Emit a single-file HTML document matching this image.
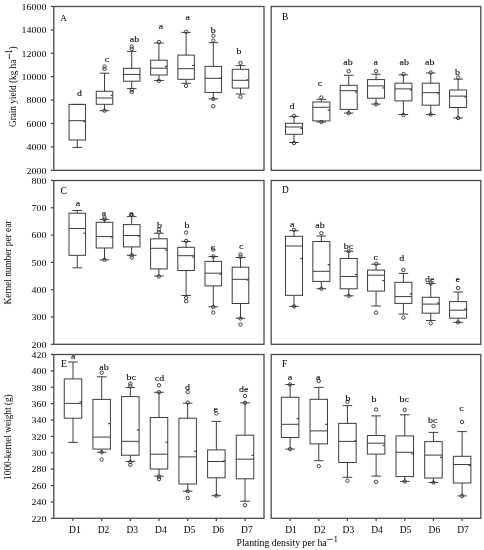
<!DOCTYPE html><html><head><meta charset="utf-8"><style>
html,body{margin:0;padding:0;background:#fff;}
svg{display:block;filter:blur(0.3px);}
text{font-family:"Liberation Serif",serif;fill:#000;}
.lab{font-size:9.2px;text-anchor:middle;stroke:#000;stroke-width:0.1px;}
.tk{font-size:8.9px;text-anchor:end;}
.xt{font-size:9.5px;text-anchor:middle;}
.ttl{font-size:10.5px;text-anchor:middle;}
.bx line,.bx rect,.bx circle{stroke:#3c3c3c;stroke-width:1.0;fill:none;}
.bx line.mn{stroke-width:1.2;}
.fr{stroke:#4a4a4a;stroke-width:1.3;fill:none;}
</style></head><body>
<svg width="484" height="550" viewBox="0 0 484 550">
<rect class="fr" x="53.8" y="6.5" width="210.2" height="163.8"/>
<rect class="fr" x="271.2" y="6.5" width="209.6" height="163.8"/>
<rect class="fr" x="53.8" y="180.5" width="210.2" height="163.8"/>
<rect class="fr" x="271.2" y="180.5" width="209.6" height="163.8"/>
<rect class="fr" x="53.8" y="354.5" width="210.2" height="163.8"/>
<rect class="fr" x="271.2" y="354.5" width="209.6" height="163.8"/>
<line class="fr" x1="50.8" y1="6.5" x2="53.8" y2="6.5"/>
<text class="tk" transform="translate(46.5,10) scale(1.12,1)">16000</text>
<line class="fr" x1="50.8" y1="29.9" x2="53.8" y2="29.9"/>
<text class="tk" transform="translate(46.5,33) scale(1.12,1)">14000</text>
<line class="fr" x1="50.8" y1="53.3" x2="53.8" y2="53.3"/>
<text class="tk" transform="translate(46.5,57) scale(1.12,1)">12000</text>
<line class="fr" x1="50.8" y1="76.7" x2="53.8" y2="76.7"/>
<text class="tk" transform="translate(46.5,80) scale(1.12,1)">10000</text>
<line class="fr" x1="50.8" y1="100.1" x2="53.8" y2="100.1"/>
<text class="tk" transform="translate(46.5,103) scale(1.12,1)">8000</text>
<line class="fr" x1="50.8" y1="123.5" x2="53.8" y2="123.5"/>
<text class="tk" transform="translate(46.5,127) scale(1.12,1)">6000</text>
<line class="fr" x1="50.8" y1="146.9" x2="53.8" y2="146.9"/>
<text class="tk" transform="translate(46.5,150) scale(1.12,1)">4000</text>
<line class="fr" x1="50.8" y1="170.3" x2="53.8" y2="170.3"/>
<text class="tk" transform="translate(46.5,174) scale(1.12,1)">2000</text>
<line class="fr" x1="50.8" y1="180.5" x2="53.8" y2="180.5"/>
<text class="tk" transform="translate(46.5,184) scale(1.12,1)">800</text>
<line class="fr" x1="50.8" y1="207.8" x2="53.8" y2="207.8"/>
<text class="tk" transform="translate(46.5,211) scale(1.12,1)">700</text>
<line class="fr" x1="50.8" y1="235.1" x2="53.8" y2="235.1"/>
<text class="tk" transform="translate(46.5,238) scale(1.12,1)">600</text>
<line class="fr" x1="50.8" y1="262.4" x2="53.8" y2="262.4"/>
<text class="tk" transform="translate(46.5,266) scale(1.12,1)">500</text>
<line class="fr" x1="50.8" y1="289.7" x2="53.8" y2="289.7"/>
<text class="tk" transform="translate(46.5,293) scale(1.12,1)">400</text>
<line class="fr" x1="50.8" y1="317" x2="53.8" y2="317"/>
<text class="tk" transform="translate(46.5,320) scale(1.12,1)">300</text>
<line class="fr" x1="50.8" y1="344.3" x2="53.8" y2="344.3"/>
<text class="tk" transform="translate(46.5,348) scale(1.12,1)">200</text>
<line class="fr" x1="50.8" y1="354.5" x2="53.8" y2="354.5"/>
<text class="tk" transform="translate(46.5,358) scale(1.12,1)">420</text>
<line class="fr" x1="50.8" y1="370.88" x2="53.8" y2="370.88"/>
<text class="tk" transform="translate(46.5,374) scale(1.12,1)">400</text>
<line class="fr" x1="50.8" y1="387.26" x2="53.8" y2="387.26"/>
<text class="tk" transform="translate(46.5,391) scale(1.12,1)">380</text>
<line class="fr" x1="50.8" y1="403.64" x2="53.8" y2="403.64"/>
<text class="tk" transform="translate(46.5,407) scale(1.12,1)">360</text>
<line class="fr" x1="50.8" y1="420.02" x2="53.8" y2="420.02"/>
<text class="tk" transform="translate(46.5,423) scale(1.12,1)">340</text>
<line class="fr" x1="50.8" y1="436.4" x2="53.8" y2="436.4"/>
<text class="tk" transform="translate(46.5,440) scale(1.12,1)">320</text>
<line class="fr" x1="50.8" y1="452.78" x2="53.8" y2="452.78"/>
<text class="tk" transform="translate(46.5,456) scale(1.12,1)">300</text>
<line class="fr" x1="50.8" y1="469.16" x2="53.8" y2="469.16"/>
<text class="tk" transform="translate(46.5,472) scale(1.12,1)">280</text>
<line class="fr" x1="50.8" y1="485.54" x2="53.8" y2="485.54"/>
<text class="tk" transform="translate(46.5,489) scale(1.12,1)">260</text>
<line class="fr" x1="50.8" y1="501.92" x2="53.8" y2="501.92"/>
<text class="tk" transform="translate(46.5,505) scale(1.12,1)">240</text>
<line class="fr" x1="50.8" y1="518.3" x2="53.8" y2="518.3"/>
<text class="tk" transform="translate(46.5,522) scale(1.12,1)">220</text>
<line class="fr" x1="73" y1="518.3" x2="73" y2="521"/>
<text class="xt" x="74.9" y="533">D1</text>
<line class="fr" x1="101.67" y1="518.3" x2="101.67" y2="521"/>
<text class="xt" x="103.57" y="533">D2</text>
<line class="fr" x1="130.34" y1="518.3" x2="130.34" y2="521"/>
<text class="xt" x="132.24" y="533">D3</text>
<line class="fr" x1="159.01" y1="518.3" x2="159.01" y2="521"/>
<text class="xt" x="160.91" y="533">D4</text>
<line class="fr" x1="187.68" y1="518.3" x2="187.68" y2="521"/>
<text class="xt" x="189.58" y="533">D5</text>
<line class="fr" x1="216.35" y1="518.3" x2="216.35" y2="521"/>
<text class="xt" x="218.25" y="533">D6</text>
<line class="fr" x1="245.02" y1="518.3" x2="245.02" y2="521"/>
<text class="xt" x="246.92" y="533">D7</text>
<line class="fr" x1="290.1" y1="518.3" x2="290.1" y2="521"/>
<text class="xt" x="291" y="533">D1</text>
<line class="fr" x1="318.77" y1="518.3" x2="318.77" y2="521"/>
<text class="xt" x="319.67" y="533">D2</text>
<line class="fr" x1="347.44" y1="518.3" x2="347.44" y2="521"/>
<text class="xt" x="348.34" y="533">D3</text>
<line class="fr" x1="376.11" y1="518.3" x2="376.11" y2="521"/>
<text class="xt" x="377.01" y="533">D4</text>
<line class="fr" x1="404.78" y1="518.3" x2="404.78" y2="521"/>
<text class="xt" x="405.68" y="533">D5</text>
<line class="fr" x1="433.45" y1="518.3" x2="433.45" y2="521"/>
<text class="xt" x="434.35" y="533">D6</text>
<line class="fr" x1="462.12" y1="518.3" x2="462.12" y2="521"/>
<text class="xt" x="463.02" y="533">D7</text>
<text class="pl" font-size="9.2" x="60.2" y="20.8">A</text>
<text class="pl" font-size="9.5" x="282.0" y="19.9">B</text>
<text class="pl" font-size="9.6" x="60.6" y="193.6">C</text>
<text class="pl" font-size="9.3" x="282.1" y="193.3">D</text>
<text class="pl" font-size="9.8" x="61.1" y="367.3">E</text>
<text class="pl" font-size="9.3" x="282.1" y="367.1">F</text>
<g class="bx">
<line x1="77.3" y1="104.4" x2="77.3" y2="104.4"/>
<line x1="77.3" y1="140" x2="77.3" y2="147.4"/>
<line x1="72.5" y1="104.4" x2="82.1" y2="104.4"/>
<line x1="72.5" y1="147.4" x2="82.1" y2="147.4"/>
<rect x="69.05" y="104.4" width="16.5" height="35.6"/>
<line x1="69.05" y1="120.7" x2="85.55" y2="120.7"/>
<line class="mn" x1="83.35" y1="121.5" x2="85.55" y2="121.5"/>
<text class="lab" transform="translate(79.5,96) scale(1.08,1)">d</text>
<line x1="104.5" y1="73.2" x2="104.5" y2="91.3"/>
<line x1="104.5" y1="104.3" x2="104.5" y2="110.7"/>
<line x1="99.7" y1="73.2" x2="109.3" y2="73.2"/>
<line x1="99.7" y1="110.7" x2="109.3" y2="110.7"/>
<rect x="96.25" y="91.3" width="16.5" height="13"/>
<line x1="96.25" y1="98" x2="112.75" y2="98"/>
<line class="mn" x1="110.55" y1="95.4" x2="112.75" y2="95.4"/>
<circle cx="104.5" cy="66.6" r="1.7"/>
<circle cx="104.5" cy="68.9" r="1.7"/>
<circle cx="104.5" cy="110.7" r="1.7"/>
<text class="lab" transform="translate(107,62) scale(1.08,1)">c</text>
<line x1="131.7" y1="51.4" x2="131.7" y2="68.3"/>
<line x1="131.7" y1="81.2" x2="131.7" y2="88.6"/>
<line x1="126.9" y1="51.4" x2="136.5" y2="51.4"/>
<line x1="126.9" y1="88.6" x2="136.5" y2="88.6"/>
<rect x="123.45" y="68.3" width="16.5" height="12.9"/>
<line x1="123.45" y1="74.4" x2="139.95" y2="74.4"/>
<line class="mn" x1="137.75" y1="74.6" x2="139.95" y2="74.6"/>
<circle cx="131.7" cy="46.6" r="1.7"/>
<circle cx="131.7" cy="48.9" r="1.7"/>
<circle cx="131.7" cy="89.8" r="1.7"/>
<circle cx="131.7" cy="92" r="1.7"/>
<text class="lab" transform="translate(134.5,42) scale(1.08,1)">ab</text>
<line x1="158.9" y1="43" x2="158.9" y2="60.2"/>
<line x1="158.9" y1="75" x2="158.9" y2="80.5"/>
<line x1="154.1" y1="43" x2="163.7" y2="43"/>
<line x1="154.1" y1="80.5" x2="163.7" y2="80.5"/>
<rect x="150.65" y="60.2" width="16.5" height="14.8"/>
<line x1="150.65" y1="68.2" x2="167.15" y2="68.2"/>
<line class="mn" x1="164.95" y1="66.4" x2="167.15" y2="66.4"/>
<circle cx="158.9" cy="42" r="1.7"/>
<circle cx="158.9" cy="80.8" r="1.7"/>
<text class="lab" transform="translate(161,29) scale(1.08,1)">a</text>
<line x1="186.1" y1="32.4" x2="186.1" y2="55.1"/>
<line x1="186.1" y1="79.3" x2="186.1" y2="83.3"/>
<line x1="181.3" y1="32.4" x2="190.9" y2="32.4"/>
<line x1="181.3" y1="83.3" x2="190.9" y2="83.3"/>
<rect x="177.85" y="55.1" width="16.5" height="24.2"/>
<line x1="177.85" y1="68.7" x2="194.35" y2="68.7"/>
<line class="mn" x1="192.15" y1="65.5" x2="194.35" y2="65.5"/>
<circle cx="186.1" cy="31.8" r="1.7"/>
<circle cx="186.1" cy="85.9" r="1.7"/>
<text class="lab" transform="translate(187.7,20) scale(1.08,1)">a</text>
<line x1="213.3" y1="42.7" x2="213.3" y2="66.4"/>
<line x1="213.3" y1="92.4" x2="213.3" y2="98.9"/>
<line x1="208.5" y1="42.7" x2="218.1" y2="42.7"/>
<line x1="208.5" y1="98.9" x2="218.1" y2="98.9"/>
<rect x="205.05" y="66.4" width="16.5" height="26"/>
<line x1="205.05" y1="78.3" x2="221.55" y2="78.3"/>
<line class="mn" x1="219.35" y1="78.3" x2="221.55" y2="78.3"/>
<circle cx="213.3" cy="35.7" r="1.7"/>
<circle cx="213.3" cy="40.5" r="1.7"/>
<circle cx="213.3" cy="98.9" r="1.7"/>
<circle cx="213.3" cy="106.1" r="1.7"/>
<text class="lab" transform="translate(213.2,33) scale(1.08,1)">b</text>
<line x1="240.5" y1="65.6" x2="240.5" y2="69.3"/>
<line x1="240.5" y1="88.1" x2="240.5" y2="94"/>
<line x1="235.7" y1="65.6" x2="245.3" y2="65.6"/>
<line x1="235.7" y1="94" x2="245.3" y2="94"/>
<rect x="232.25" y="69.3" width="16.5" height="18.8"/>
<line x1="232.25" y1="80.3" x2="248.75" y2="80.3"/>
<line class="mn" x1="246.55" y1="79.9" x2="248.75" y2="79.9"/>
<circle cx="240.5" cy="62.9" r="1.7"/>
<circle cx="240.5" cy="96.8" r="1.7"/>
<text class="lab" transform="translate(238.9,54) scale(1.08,1)">b</text>
<line x1="294" y1="116.4" x2="294" y2="123.3"/>
<line x1="294" y1="134.3" x2="294" y2="142.5"/>
<line x1="289.2" y1="116.4" x2="298.8" y2="116.4"/>
<line x1="289.2" y1="142.5" x2="298.8" y2="142.5"/>
<rect x="285.5" y="123.3" width="17" height="11"/>
<line x1="285.5" y1="127" x2="302.5" y2="127"/>
<line class="mn" x1="300.3" y1="128.4" x2="302.5" y2="128.4"/>
<circle cx="294" cy="115.9" r="1.7"/>
<circle cx="294" cy="143" r="1.7"/>
<text class="lab" transform="translate(292,109) scale(1.08,1)">d</text>
<line x1="321.35" y1="99.3" x2="321.35" y2="102"/>
<line x1="321.35" y1="120.9" x2="321.35" y2="122"/>
<line x1="316.55" y1="99.3" x2="326.15" y2="99.3"/>
<line x1="316.55" y1="122" x2="326.15" y2="122"/>
<rect x="312.85" y="102" width="17" height="18.9"/>
<line x1="312.85" y1="107.3" x2="329.85" y2="107.3"/>
<line class="mn" x1="327.65" y1="110" x2="329.85" y2="110"/>
<circle cx="321.35" cy="97.5" r="1.7"/>
<circle cx="321.35" cy="122" r="1.7"/>
<text class="lab" transform="translate(320,86) scale(1.08,1)">c</text>
<line x1="348.7" y1="75.3" x2="348.7" y2="85.3"/>
<line x1="348.7" y1="109.4" x2="348.7" y2="113.1"/>
<line x1="343.9" y1="75.3" x2="353.5" y2="75.3"/>
<line x1="343.9" y1="113.1" x2="353.5" y2="113.1"/>
<rect x="340.2" y="85.3" width="17" height="24.1"/>
<line x1="340.2" y1="90.7" x2="357.2" y2="90.7"/>
<line class="mn" x1="355" y1="92" x2="357.2" y2="92"/>
<circle cx="348.7" cy="71.2" r="1.7"/>
<circle cx="348.7" cy="113.1" r="1.7"/>
<text class="lab" transform="translate(348,65) scale(1.08,1)">ab</text>
<line x1="376.05" y1="74.2" x2="376.05" y2="79.6"/>
<line x1="376.05" y1="98.2" x2="376.05" y2="104.1"/>
<line x1="371.25" y1="74.2" x2="380.85" y2="74.2"/>
<line x1="371.25" y1="104.1" x2="380.85" y2="104.1"/>
<rect x="367.55" y="79.6" width="17" height="18.6"/>
<line x1="367.55" y1="85.9" x2="384.55" y2="85.9"/>
<line class="mn" x1="382.35" y1="87.9" x2="384.55" y2="87.9"/>
<circle cx="376.05" cy="71.2" r="1.7"/>
<circle cx="376.05" cy="104.3" r="1.7"/>
<text class="lab" transform="translate(375.7,65) scale(1.08,1)">a</text>
<line x1="403.4" y1="74.8" x2="403.4" y2="83.2"/>
<line x1="403.4" y1="100.9" x2="403.4" y2="114.5"/>
<line x1="398.6" y1="74.8" x2="408.2" y2="74.8"/>
<line x1="398.6" y1="114.5" x2="408.2" y2="114.5"/>
<rect x="394.9" y="83.2" width="17" height="17.7"/>
<line x1="394.9" y1="88.9" x2="411.9" y2="88.9"/>
<line class="mn" x1="409.7" y1="90" x2="411.9" y2="90"/>
<circle cx="403.4" cy="74.1" r="1.7"/>
<circle cx="403.4" cy="115" r="1.7"/>
<text class="lab" transform="translate(404.2,65) scale(1.08,1)">ab</text>
<line x1="430.75" y1="73" x2="430.75" y2="83.2"/>
<line x1="430.75" y1="105.2" x2="430.75" y2="114.5"/>
<line x1="425.95" y1="73" x2="435.55" y2="73"/>
<line x1="425.95" y1="114.5" x2="435.55" y2="114.5"/>
<rect x="422.25" y="83.2" width="17" height="22"/>
<line x1="422.25" y1="92.7" x2="439.25" y2="92.7"/>
<line class="mn" x1="437.05" y1="93" x2="439.25" y2="93"/>
<circle cx="430.75" cy="72.5" r="1.7"/>
<circle cx="430.75" cy="114.5" r="1.7"/>
<text class="lab" transform="translate(429.7,65) scale(1.08,1)">ab</text>
<line x1="458.1" y1="79.1" x2="458.1" y2="90"/>
<line x1="458.1" y1="107.5" x2="458.1" y2="118"/>
<line x1="453.3" y1="79.1" x2="462.9" y2="79.1"/>
<line x1="453.3" y1="118" x2="462.9" y2="118"/>
<rect x="449.6" y="90" width="17" height="17.5"/>
<line x1="449.6" y1="96.1" x2="466.6" y2="96.1"/>
<line class="mn" x1="464.4" y1="97" x2="466.6" y2="97"/>
<circle cx="458.1" cy="77.5" r="1.7"/>
<circle cx="458.1" cy="118" r="1.7"/>
<text class="lab" transform="translate(457.6,75) scale(1.08,1)">b</text>
<line x1="77.3" y1="210.5" x2="77.3" y2="213.2"/>
<line x1="77.3" y1="255.3" x2="77.3" y2="267.8"/>
<line x1="72.5" y1="210.5" x2="82.1" y2="210.5"/>
<line x1="72.5" y1="267.8" x2="82.1" y2="267.8"/>
<rect x="69" y="213.2" width="16.6" height="42.1"/>
<line x1="69" y1="228.5" x2="85.6" y2="228.5"/>
<line class="mn" x1="83.4" y1="233.2" x2="85.6" y2="233.2"/>
<text class="lab" transform="translate(77.9,206) scale(1.08,1)">a</text>
<line x1="104.5" y1="219.4" x2="104.5" y2="222.3"/>
<line x1="104.5" y1="248" x2="104.5" y2="259.8"/>
<line x1="99.7" y1="219.4" x2="109.3" y2="219.4"/>
<line x1="99.7" y1="259.8" x2="109.3" y2="259.8"/>
<rect x="96.2" y="222.3" width="16.6" height="25.7"/>
<line x1="96.2" y1="236.6" x2="112.8" y2="236.6"/>
<line class="mn" x1="110.6" y1="237" x2="112.8" y2="237"/>
<circle cx="104.5" cy="217.5" r="1.7"/>
<circle cx="104.5" cy="219.4" r="1.7"/>
<circle cx="104.5" cy="259.8" r="1.7"/>
<text class="lab" transform="translate(104,216) scale(1.08,1)">a</text>
<line x1="131.7" y1="216.6" x2="131.7" y2="224.6"/>
<line x1="131.7" y1="246.9" x2="131.7" y2="255.3"/>
<line x1="126.9" y1="216.6" x2="136.5" y2="216.6"/>
<line x1="126.9" y1="255.3" x2="136.5" y2="255.3"/>
<rect x="123.4" y="224.6" width="16.6" height="22.3"/>
<line x1="123.4" y1="235.5" x2="140" y2="235.5"/>
<line class="mn" x1="137.8" y1="236" x2="140" y2="236"/>
<circle cx="131.7" cy="215" r="1.7"/>
<circle cx="131.7" cy="255.3" r="1.7"/>
<circle cx="131.7" cy="257.5" r="1.7"/>
<text class="lab" transform="translate(131.3,216) scale(1.08,1)">a</text>
<line x1="158.9" y1="233.2" x2="158.9" y2="238.8"/>
<line x1="158.9" y1="268.9" x2="158.9" y2="276"/>
<line x1="154.1" y1="233.2" x2="163.7" y2="233.2"/>
<line x1="154.1" y1="276" x2="163.7" y2="276"/>
<rect x="150.6" y="238.8" width="16.6" height="30.1"/>
<line x1="150.6" y1="248.3" x2="167.2" y2="248.3"/>
<line class="mn" x1="165" y1="250" x2="167.2" y2="250"/>
<circle cx="158.9" cy="229.6" r="1.7"/>
<circle cx="158.9" cy="232.2" r="1.7"/>
<circle cx="158.9" cy="276.4" r="1.7"/>
<text class="lab" transform="translate(159.5,228) scale(1.08,1)">b</text>
<line x1="186.1" y1="241.4" x2="186.1" y2="247.3"/>
<line x1="186.1" y1="270.5" x2="186.1" y2="295.5"/>
<line x1="181.3" y1="241.4" x2="190.9" y2="241.4"/>
<line x1="181.3" y1="295.5" x2="190.9" y2="295.5"/>
<rect x="177.8" y="247.3" width="16.6" height="23.2"/>
<line x1="177.8" y1="255.7" x2="194.4" y2="255.7"/>
<line class="mn" x1="192.2" y1="257" x2="194.4" y2="257"/>
<circle cx="186.1" cy="232.5" r="1.7"/>
<circle cx="186.1" cy="240.9" r="1.7"/>
<circle cx="186.1" cy="297.8" r="1.7"/>
<circle cx="186.1" cy="301.2" r="1.7"/>
<text class="lab" transform="translate(187,228) scale(1.08,1)">b</text>
<line x1="213.3" y1="256.5" x2="213.3" y2="261.4"/>
<line x1="213.3" y1="285.9" x2="213.3" y2="306.8"/>
<line x1="208.5" y1="256.5" x2="218.1" y2="256.5"/>
<line x1="208.5" y1="306.8" x2="218.1" y2="306.8"/>
<rect x="205" y="261.4" width="16.6" height="24.5"/>
<line x1="205" y1="273.2" x2="221.6" y2="273.2"/>
<line class="mn" x1="219.4" y1="274" x2="221.6" y2="274"/>
<circle cx="213.3" cy="249.6" r="1.7"/>
<circle cx="213.3" cy="256.5" r="1.7"/>
<circle cx="213.3" cy="307" r="1.7"/>
<circle cx="213.3" cy="312.5" r="1.7"/>
<text class="lab" transform="translate(213,250) scale(1.08,1)">c</text>
<line x1="240.5" y1="257.5" x2="240.5" y2="267.2"/>
<line x1="240.5" y1="303.5" x2="240.5" y2="318.3"/>
<line x1="235.7" y1="257.5" x2="245.3" y2="257.5"/>
<line x1="235.7" y1="318.3" x2="245.3" y2="318.3"/>
<rect x="232.2" y="267.2" width="16.6" height="36.3"/>
<line x1="232.2" y1="279.3" x2="248.8" y2="279.3"/>
<line class="mn" x1="246.6" y1="280" x2="248.8" y2="280"/>
<circle cx="240.5" cy="254.5" r="1.7"/>
<circle cx="240.5" cy="256.8" r="1.7"/>
<circle cx="240.5" cy="318.5" r="1.7"/>
<circle cx="240.5" cy="324.5" r="1.7"/>
<text class="lab" transform="translate(241.1,249) scale(1.08,1)">c</text>
<line x1="294" y1="230.7" x2="294" y2="236.3"/>
<line x1="294" y1="295.3" x2="294" y2="306.4"/>
<line x1="289.2" y1="230.7" x2="298.8" y2="230.7"/>
<line x1="289.2" y1="306.4" x2="298.8" y2="306.4"/>
<rect x="285.5" y="236.3" width="17" height="59"/>
<line x1="285.5" y1="246" x2="302.5" y2="246"/>
<line class="mn" x1="300.3" y1="258.6" x2="302.5" y2="258.6"/>
<circle cx="294" cy="229.8" r="1.7"/>
<circle cx="294" cy="306.4" r="1.7"/>
<text class="lab" transform="translate(292.3,227) scale(1.08,1)">a</text>
<line x1="321.35" y1="236" x2="321.35" y2="241.5"/>
<line x1="321.35" y1="281.4" x2="321.35" y2="288.7"/>
<line x1="316.55" y1="236" x2="326.15" y2="236"/>
<line x1="316.55" y1="288.7" x2="326.15" y2="288.7"/>
<rect x="312.85" y="241.5" width="17" height="39.9"/>
<line x1="312.85" y1="271.3" x2="329.85" y2="271.3"/>
<line class="mn" x1="327.65" y1="264.6" x2="329.85" y2="264.6"/>
<circle cx="321.35" cy="233.2" r="1.7"/>
<circle cx="321.35" cy="288.7" r="1.7"/>
<text class="lab" transform="translate(320,228) scale(1.08,1)">ab</text>
<line x1="348.7" y1="251.2" x2="348.7" y2="258.5"/>
<line x1="348.7" y1="288.8" x2="348.7" y2="295.8"/>
<line x1="343.9" y1="251.2" x2="353.5" y2="251.2"/>
<line x1="343.9" y1="295.8" x2="353.5" y2="295.8"/>
<rect x="340.2" y="258.5" width="17" height="30.3"/>
<line x1="340.2" y1="276.5" x2="357.2" y2="276.5"/>
<line class="mn" x1="355" y1="274.6" x2="357.2" y2="274.6"/>
<circle cx="348.7" cy="251.2" r="1.7"/>
<circle cx="348.7" cy="295.8" r="1.7"/>
<text class="lab" transform="translate(348.4,249) scale(1.08,1)">bc</text>
<line x1="376.05" y1="264.2" x2="376.05" y2="270.1"/>
<line x1="376.05" y1="291.1" x2="376.05" y2="306"/>
<line x1="371.25" y1="264.2" x2="380.85" y2="264.2"/>
<line x1="371.25" y1="306" x2="380.85" y2="306"/>
<rect x="367.55" y="270.1" width="17" height="21"/>
<line x1="367.55" y1="275.2" x2="384.55" y2="275.2"/>
<line class="mn" x1="382.35" y1="280.5" x2="384.55" y2="280.5"/>
<circle cx="376.05" cy="263.8" r="1.7"/>
<circle cx="376.05" cy="312.6" r="1.7"/>
<text class="lab" transform="translate(375.7,260) scale(1.08,1)">c</text>
<line x1="403.4" y1="273.4" x2="403.4" y2="282.3"/>
<line x1="403.4" y1="303.4" x2="403.4" y2="314.1"/>
<line x1="398.6" y1="273.4" x2="408.2" y2="273.4"/>
<line x1="398.6" y1="314.1" x2="408.2" y2="314.1"/>
<rect x="394.9" y="282.3" width="17" height="21.1"/>
<line x1="394.9" y1="296.6" x2="411.9" y2="296.6"/>
<line class="mn" x1="409.7" y1="294" x2="411.9" y2="294"/>
<circle cx="403.4" cy="270" r="1.7"/>
<circle cx="403.4" cy="317.7" r="1.7"/>
<text class="lab" transform="translate(401.7,261) scale(1.08,1)">d</text>
<line x1="430.75" y1="283.4" x2="430.75" y2="297.3"/>
<line x1="430.75" y1="313.2" x2="430.75" y2="320.5"/>
<line x1="425.95" y1="283.4" x2="435.55" y2="283.4"/>
<line x1="425.95" y1="320.5" x2="435.55" y2="320.5"/>
<rect x="422.25" y="297.3" width="17" height="15.9"/>
<line x1="422.25" y1="304.1" x2="439.25" y2="304.1"/>
<line class="mn" x1="437.05" y1="303" x2="439.25" y2="303"/>
<circle cx="430.75" cy="283.4" r="1.7"/>
<circle cx="430.75" cy="323.4" r="1.7"/>
<text class="lab" transform="translate(429.7,282) scale(1.08,1)">de</text>
<line x1="458.1" y1="292" x2="458.1" y2="301.6"/>
<line x1="458.1" y1="318.2" x2="458.1" y2="322.3"/>
<line x1="453.3" y1="292" x2="462.9" y2="292"/>
<line x1="453.3" y1="322.3" x2="462.9" y2="322.3"/>
<rect x="449.6" y="301.6" width="17" height="16.6"/>
<line x1="449.6" y1="310.2" x2="466.6" y2="310.2"/>
<line class="mn" x1="464.4" y1="309" x2="466.6" y2="309"/>
<circle cx="458.1" cy="288" r="1.7"/>
<circle cx="458.1" cy="322.3" r="1.7"/>
<text class="lab" transform="translate(457.6,282) scale(1.08,1)">e</text>
<line x1="73" y1="362" x2="73" y2="378.9"/>
<line x1="73" y1="418.2" x2="73" y2="442.4"/>
<line x1="68.2" y1="362" x2="77.8" y2="362"/>
<line x1="68.2" y1="442.4" x2="77.8" y2="442.4"/>
<rect x="64.25" y="378.9" width="17.5" height="39.3"/>
<line x1="64.25" y1="403.4" x2="81.75" y2="403.4"/>
<line class="mn" x1="79.55" y1="401.8" x2="81.75" y2="401.8"/>
<text class="lab" transform="translate(73.3,359) scale(1.08,1)">a</text>
<line x1="101.67" y1="376.8" x2="101.67" y2="399.4"/>
<line x1="101.67" y1="449.1" x2="101.67" y2="452.3"/>
<line x1="96.87" y1="376.8" x2="106.47" y2="376.8"/>
<line x1="96.87" y1="452.3" x2="106.47" y2="452.3"/>
<rect x="92.92" y="399.4" width="17.5" height="49.7"/>
<line x1="92.92" y1="437.1" x2="110.42" y2="437.1"/>
<line class="mn" x1="108.22" y1="423.6" x2="110.42" y2="423.6"/>
<circle cx="101.67" cy="372.7" r="1.7"/>
<circle cx="101.67" cy="452.3" r="1.7"/>
<circle cx="101.67" cy="459.6" r="1.7"/>
<text class="lab" transform="translate(104,370) scale(1.08,1)">ab</text>
<line x1="130.34" y1="387.5" x2="130.34" y2="396.6"/>
<line x1="130.34" y1="455.2" x2="130.34" y2="461.4"/>
<line x1="125.54" y1="387.5" x2="135.14" y2="387.5"/>
<line x1="125.54" y1="461.4" x2="135.14" y2="461.4"/>
<rect x="121.59" y="396.6" width="17.5" height="58.6"/>
<line x1="121.59" y1="441.3" x2="139.09" y2="441.3"/>
<line class="mn" x1="136.89" y1="430" x2="139.09" y2="430"/>
<circle cx="130.34" cy="383.6" r="1.7"/>
<circle cx="130.34" cy="385.7" r="1.7"/>
<circle cx="130.34" cy="462" r="1.7"/>
<circle cx="130.34" cy="464.8" r="1.7"/>
<text class="lab" transform="translate(131.3,380) scale(1.08,1)">bc</text>
<line x1="159.01" y1="392.3" x2="159.01" y2="417.5"/>
<line x1="159.01" y1="469" x2="159.01" y2="476.2"/>
<line x1="154.21" y1="392.3" x2="163.81" y2="392.3"/>
<line x1="154.21" y1="476.2" x2="163.81" y2="476.2"/>
<rect x="150.26" y="417.5" width="17.5" height="51.5"/>
<line x1="150.26" y1="454.2" x2="167.76" y2="454.2"/>
<line class="mn" x1="165.56" y1="442.2" x2="167.76" y2="442.2"/>
<circle cx="159.01" cy="385.3" r="1.7"/>
<circle cx="159.01" cy="392.3" r="1.7"/>
<circle cx="159.01" cy="476.5" r="1.7"/>
<circle cx="159.01" cy="479.1" r="1.7"/>
<text class="lab" transform="translate(159.5,381) scale(1.08,1)">cd</text>
<line x1="187.68" y1="403.2" x2="187.68" y2="418.2"/>
<line x1="187.68" y1="484" x2="187.68" y2="491.2"/>
<line x1="182.88" y1="403.2" x2="192.48" y2="403.2"/>
<line x1="182.88" y1="491.2" x2="192.48" y2="491.2"/>
<rect x="178.93" y="418.2" width="17.5" height="65.8"/>
<line x1="178.93" y1="456.9" x2="196.43" y2="456.9"/>
<line class="mn" x1="194.23" y1="451.3" x2="196.43" y2="451.3"/>
<circle cx="187.68" cy="392.1" r="1.7"/>
<circle cx="187.68" cy="402.6" r="1.7"/>
<circle cx="187.68" cy="491.2" r="1.7"/>
<circle cx="187.68" cy="498.1" r="1.7"/>
<text class="lab" transform="translate(187.5,390) scale(1.08,1)">d</text>
<line x1="216.35" y1="421.4" x2="216.35" y2="449.9"/>
<line x1="216.35" y1="477.8" x2="216.35" y2="495.7"/>
<line x1="211.55" y1="421.4" x2="221.15" y2="421.4"/>
<line x1="211.55" y1="495.7" x2="221.15" y2="495.7"/>
<rect x="207.6" y="449.9" width="17.5" height="27.9"/>
<line x1="207.6" y1="461.5" x2="225.1" y2="461.5"/>
<line class="mn" x1="222.9" y1="461" x2="225.1" y2="461"/>
<circle cx="216.35" cy="413.4" r="1.7"/>
<circle cx="216.35" cy="495.7" r="1.7"/>
<text class="lab" transform="translate(215.6,412) scale(1.08,1)">e</text>
<line x1="245.02" y1="402.8" x2="245.02" y2="435.2"/>
<line x1="245.02" y1="478.8" x2="245.02" y2="501.2"/>
<line x1="240.22" y1="402.8" x2="249.82" y2="402.8"/>
<line x1="240.22" y1="501.2" x2="249.82" y2="501.2"/>
<rect x="236.27" y="435.2" width="17.5" height="43.6"/>
<line x1="236.27" y1="459.2" x2="253.77" y2="459.2"/>
<line class="mn" x1="251.57" y1="455.3" x2="253.77" y2="455.3"/>
<circle cx="245.02" cy="395.9" r="1.7"/>
<circle cx="245.02" cy="402.8" r="1.7"/>
<circle cx="245.02" cy="505.2" r="1.7"/>
<text class="lab" transform="translate(243.7,392) scale(1.08,1)">de</text>
<line x1="290.1" y1="384.5" x2="290.1" y2="397.3"/>
<line x1="290.1" y1="437.5" x2="290.1" y2="449.1"/>
<line x1="285.3" y1="384.5" x2="294.9" y2="384.5"/>
<line x1="285.3" y1="449.1" x2="294.9" y2="449.1"/>
<rect x="281.35" y="397.3" width="17.5" height="40.2"/>
<line x1="281.35" y1="424.3" x2="298.85" y2="424.3"/>
<line class="mn" x1="296.65" y1="418.6" x2="298.85" y2="418.6"/>
<circle cx="290.1" cy="384.5" r="1.7"/>
<circle cx="290.1" cy="449.1" r="1.7"/>
<text class="lab" transform="translate(290,380) scale(1.08,1)">a</text>
<line x1="318.77" y1="387.4" x2="318.77" y2="399.3"/>
<line x1="318.77" y1="443.9" x2="318.77" y2="460.7"/>
<line x1="313.97" y1="387.4" x2="323.57" y2="387.4"/>
<line x1="313.97" y1="460.7" x2="323.57" y2="460.7"/>
<rect x="310.02" y="399.3" width="17.5" height="44.6"/>
<line x1="310.02" y1="430.9" x2="327.52" y2="430.9"/>
<line class="mn" x1="325.32" y1="424.3" x2="327.52" y2="424.3"/>
<circle cx="318.77" cy="381" r="1.7"/>
<circle cx="318.77" cy="466.2" r="1.7"/>
<text class="lab" transform="translate(318.2,380) scale(1.08,1)">a</text>
<line x1="347.44" y1="405.7" x2="347.44" y2="423.4"/>
<line x1="347.44" y1="462.5" x2="347.44" y2="477.3"/>
<line x1="342.64" y1="405.7" x2="352.24" y2="405.7"/>
<line x1="342.64" y1="477.3" x2="352.24" y2="477.3"/>
<rect x="338.69" y="423.4" width="17.5" height="39.1"/>
<line x1="338.69" y1="441.4" x2="356.19" y2="441.4"/>
<line class="mn" x1="353.99" y1="441" x2="356.19" y2="441"/>
<circle cx="347.44" cy="401.8" r="1.7"/>
<circle cx="347.44" cy="480.7" r="1.7"/>
<text class="lab" transform="translate(348,401) scale(1.08,1)">b</text>
<line x1="376.11" y1="415.9" x2="376.11" y2="435.5"/>
<line x1="376.11" y1="454.1" x2="376.11" y2="476.1"/>
<line x1="371.31" y1="415.9" x2="380.91" y2="415.9"/>
<line x1="371.31" y1="476.1" x2="380.91" y2="476.1"/>
<rect x="367.36" y="435.5" width="17.5" height="18.6"/>
<line x1="367.36" y1="443.2" x2="384.86" y2="443.2"/>
<line class="mn" x1="382.66" y1="445.5" x2="384.86" y2="445.5"/>
<circle cx="376.11" cy="409.5" r="1.7"/>
<circle cx="376.11" cy="481.8" r="1.7"/>
<text class="lab" transform="translate(374.1,402) scale(1.08,1)">b</text>
<line x1="404.78" y1="414.8" x2="404.78" y2="435.9"/>
<line x1="404.78" y1="476.6" x2="404.78" y2="481.4"/>
<line x1="399.98" y1="414.8" x2="409.58" y2="414.8"/>
<line x1="399.98" y1="481.4" x2="409.58" y2="481.4"/>
<rect x="396.03" y="435.9" width="17.5" height="40.7"/>
<line x1="396.03" y1="452.3" x2="413.53" y2="452.3"/>
<line class="mn" x1="411.33" y1="453.9" x2="413.53" y2="453.9"/>
<circle cx="404.78" cy="409.8" r="1.7"/>
<circle cx="404.78" cy="481.4" r="1.7"/>
<text class="lab" transform="translate(404.2,402) scale(1.08,1)">bc</text>
<line x1="433.45" y1="432.4" x2="433.45" y2="441.6"/>
<line x1="433.45" y1="478" x2="433.45" y2="482.5"/>
<line x1="428.65" y1="432.4" x2="438.25" y2="432.4"/>
<line x1="428.65" y1="482.5" x2="438.25" y2="482.5"/>
<rect x="424.7" y="441.6" width="17.5" height="36.4"/>
<line x1="424.7" y1="455.1" x2="442.2" y2="455.1"/>
<line class="mn" x1="440" y1="457.3" x2="442.2" y2="457.3"/>
<circle cx="433.45" cy="426.1" r="1.7"/>
<circle cx="433.45" cy="482.5" r="1.7"/>
<text class="lab" transform="translate(432.6,423) scale(1.08,1)">bc</text>
<line x1="462.12" y1="431.6" x2="462.12" y2="456.3"/>
<line x1="462.12" y1="483" x2="462.12" y2="495.9"/>
<line x1="457.32" y1="431.6" x2="466.92" y2="431.6"/>
<line x1="457.32" y1="495.9" x2="466.92" y2="495.9"/>
<rect x="453.37" y="456.3" width="17.5" height="26.7"/>
<line x1="453.37" y1="464.5" x2="470.87" y2="464.5"/>
<line class="mn" x1="468.67" y1="465.5" x2="470.87" y2="465.5"/>
<circle cx="462.12" cy="422" r="1.7"/>
<circle cx="462.12" cy="495.9" r="1.7"/>
<text class="lab" transform="translate(461.5,411) scale(1.08,1)">c</text>
</g>
<g transform="translate(15.6,127) scale(1.05,1) rotate(-90)"><text font-size="9.2" x="0" y="0">Grain yield (kg ha</text><line x1="67.7" y1="-6.0" x2="73.6" y2="-6.0" stroke="#1a1a1a" stroke-width="0.8"/><text font-size="9" x="73.2" y="-3.1">1</text><text font-size="9.5" x="77.4" y="0">)</text></g>
<g transform="translate(10.7,304.4) scale(1.05,1) rotate(-90)"><text font-size="9.3" x="0" y="0">Kernel number per ear</text></g>
<g transform="translate(10.8,479.9) scale(1.05,1) rotate(-90)"><text font-size="9.3" x="0" y="0">1000-kernel weight (g)</text></g>
<g transform="translate(236.6,545.6) scale(1.045,1)"><text font-size="9.4" x="0" y="0">Planting density per ha</text></g>
<line x1="327.1" y1="539.4" x2="332.8" y2="539.4" stroke="#1a1a1a" stroke-width="0.75"/>
<text font-size="9" x="333.4" y="541.6">1</text>
</svg></body></html>
